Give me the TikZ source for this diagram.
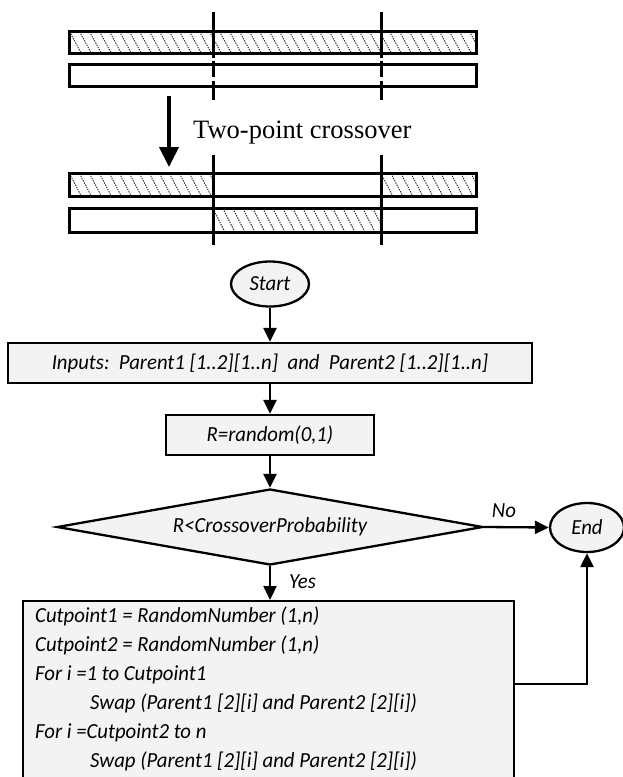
\documentclass[tikz,border=0pt]{standalone}
\usepackage{fontspec}
\usepackage{graphicx}
\setmainfont{Carlito}
\newfontfamily\timesf{Liberation Serif}
\usetikzlibrary{arrows.meta,shapes.geometric}
\definecolor{boxfill}{HTML}{F3F3F3}
\newcommand\hs[1]{\scalebox{0.965}[1]{#1}}
\tikzset{
  fl/.style={line width=2.3pt},
  flow/.style={fl, -{Triangle[width=13pt,length=14pt]}},
  ftext/.style={font=\fontsize{21.5}{25}\selectfont\itshape},
  box/.style={draw, fl, fill=boxfill, rectangle, inner sep=0pt, ftext},
  term/.style={draw, fl, fill=boxfill, ellipse, inner sep=0pt, ftext},
  pline/.style={anchor=base west, inner sep=0pt, ftext},
  bar/.style={draw, line width=3pt},
  cut/.style={line width=3pt},
  hatch/.style={line width=0.9pt, black!85, dash pattern=on 1.4pt off 1.1pt},
}
\newcommand\hatchbox[4]{%
  \begin{scope}
    \clip (#1,#2) rectangle (#3,#4);
    \foreach \k in {-20,-10,...,420} {\draw[hatch] (#1+\k,#2) -- (#1+\k+12,#4);}
  \end{scope}}
\begin{document}
\begin{tikzpicture}[x=1pt,y=-1pt]
\useasboundingbox (0,0) rectangle (623,777);
\clip (0,0) rectangle (623,777);
% ---------- crossover illustration ----------
\hatchbox{69.5}{31.5}{476.5}{53.5}
\draw[bar] (69.5,31.5) rectangle (476.5,53.5);
\draw[bar] (69.5,64.5) rectangle (476.5,86.5);
\foreach \x in {213,381} {
  \draw[cut] (\x,12) -- (\x,58);
  \draw[cut] (\x,61) -- (\x,77);
  \draw[cut] (\x,81) -- (\x,100);
}
\hatchbox{69.5}{173.5}{213}{196.5}
\hatchbox{381}{173.5}{476.5}{196.5}
\hatchbox{213}{208.5}{381}{232.5}
\draw[bar] (69.5,173.5) rectangle (476.5,196.5);
\draw[bar] (69.5,208.5) rectangle (476.5,232.5);
\foreach \x in {213,381} {
  \draw[cut] (\x,155) -- (\x,245);
}
\coordinate (arA) at (169,96);
\coordinate (arB) at (169,167);
\draw[line width=4pt, -{Triangle[width=19pt,length=20pt]}] (arA) -- (arB);
\node[anchor=west, inner sep=0pt, font=\timesf\fontsize{26.5}{30}\selectfont] (tpc) at (193,133) {Two-point crossover};
% ---------- flowchart ----------
\node[term, minimum width=78pt, minimum height=45pt] (start) at (270,284) {\hs{Start}};
\node[box, minimum width=524pt, minimum height=40pt] (inputs) at (270,363)
  {\hs{Inputs:\ \ Parent1 [1..2][1..n]\ \ and\ \ Parent2 [1..2][1..n]}};
\node[box, minimum width=208pt, minimum height=40pt] (rbox) at (270,435) {\hs{R=random(0,1)}};
\node[draw, fl, fill=boxfill, diamond, shape aspect=5.46, inner sep=0pt,
      minimum width=426pt, minimum height=76pt, ftext] (dec) at (270,527) {\hs{R<CrossoverProbability}};
\node[term, minimum width=74pt, minimum height=49pt] (end) at (587,527.5) {\hs{End}};
\node[box, minimum width=491pt, minimum height=200pt, anchor=north] (proc) at (268.5,600) {};
\node[pline] (l1) at (35,622) {\hs{Cutpoint1 = RandomNumber (1,n)}};
\node[pline] (l2) at (35,651) {\hs{Cutpoint2 = RandomNumber (1,n)}};
\node[pline] (l3) at (35,680) {\hs{For i =1 to Cutpoint1}};
\node[pline] (l4) at (90,709) {\hs{Swap (Parent1 [2][i] and Parent2 [2][i])}};
\node[pline] (l5) at (35,738) {\hs{For i =Cutpoint2 to n}};
\node[pline] (l6) at (90,767) {\hs{Swap (Parent1 [2][i] and Parent2 [2][i])}};
\coordinate (fb) at (587,684);
\draw[flow] (start) -- (inputs);
\draw[flow] (inputs) -- (rbox);
\draw[flow] (rbox) -- (dec);
\draw[flow] (dec.east) -- (end.west);
\node[ftext, inner sep=0pt] (nolab) at (504,511) {\hs{No}};
\draw[flow] (dec.south) -- (dec.south |- proc.north);
\node[ftext, inner sep=0pt, anchor=west] (yeslab) at (289,582) {\hs{Yes}};
\draw[flow] (proc.east |- fb) -- (fb) -- (end.south);
\end{tikzpicture}
\end{document}
